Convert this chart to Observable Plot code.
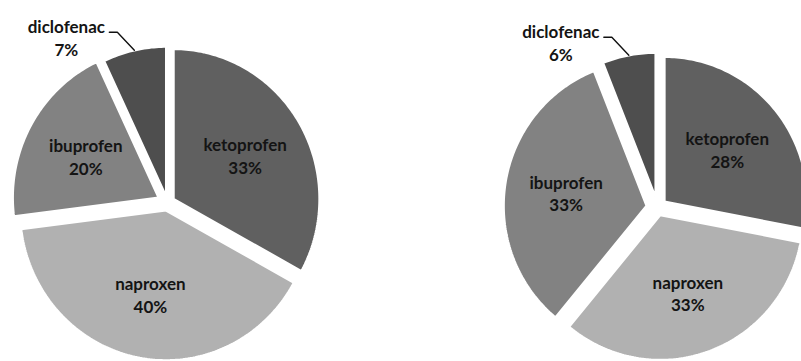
<!DOCTYPE html>
<html>
<head>
<meta charset="utf-8">
<script src="https://cdn.jsdelivr.net/npm/d3@7"></script>
<script src="https://cdn.jsdelivr.net/npm/@observablehq/plot@0.6"></script>
<style>
  html, body { margin: 0; padding: 0; background: #fff; overflow: hidden; }
  #chart svg { display: block; }
</style>
</head>
<body>
<div id="chart"></div>
<script>
// Drug names in clockwise order, starting at 12 o'clock
const drugs = ["ketoprofen", "naproxen", "ibuprofen", "diclofenac"];
// Share of each drug (%) in the left and right pie
const sharesLeft = [33, 40, 20, 7];
const sharesRight = [28, 33, 33, 6];

// Styling: one grey per drug
const sliceFill = {
  ketoprofen: "#606060",
  naproxen: "#b1b1b1",
  ibuprofen: "#828282",
  diclofenac: "#4e4e4e"
};

// Layout of the two exploded pies (pixel units of the x/y scales)
const W = 801, H = 361;
const pieLayouts = [
  {shares: sharesLeft, cx: 167, cy: 202, rx: 146, ry: 150, explode: [7, 8, 10, 6]},
  {shares: sharesRight, cx: 657, cy: 207, rx: 143, ry: 145, explode: [9, 8, 11, 10]}
];

const slicePts = [];
const labels = [];
const leaders = [];

pieLayouts.forEach((p, pi) => {
  const arcs = d3.pie().sort(null).value(d => d)(p.shares);
  arcs.forEach((a, i) => {
    const key = `${pi}-${drugs[i]}`;
    const fill = sliceFill[drugs[i]];
    const mid = (a.startAngle + a.endAngle) / 2;
    const e = p.explode[i];
    const ox = p.cx + e * Math.sin(mid);
    const oy = p.cy - e * Math.cos(mid);
    const pt = (ang, k = 1) => [ox + k * p.rx * Math.sin(ang), oy - k * p.ry * Math.cos(ang)];
    // wedge outline: apex, arc, back to apex
    slicePts.push({key, fill, x: ox, y: oy});
    const steps = Math.max(4, Math.ceil((a.endAngle - a.startAngle) / (Math.PI / 180)));
    for (let s = 0; s <= steps; s++) {
      const ang = a.startAngle + (a.endAngle - a.startAngle) * s / steps;
      const [x, y] = pt(ang);
      slicePts.push({key, fill, x, y});
    }
    slicePts.push({key, fill, x: ox, y: oy});

    const text = `${drugs[i]}\n${a.data}%`;
    if (a.data >= 10) {
      const [lx, ly] = pt(mid, 0.57);
      labels.push({x: lx, y: ly, text});
    } else {
      // small slice: label outside with a leader line
      const [ax, ay] = pt(mid, 1);
      const ex = ax - 17, ey = ay - 18;
      leaders.push({key, x: ax, y: ay}, {key, x: ex, y: ey}, {key, x: ex - 8, y: ey});
      labels.push({x: ex - 51, y: ey + 5, text});
    }
  });
});

const chart = Plot.plot({
  width: W,
  height: H,
  margin: 0,
  x: {domain: [0, W], range: [0, W], axis: null},
  y: {domain: [0, H], range: [0, H], axis: null},
  color: {type: "identity"},
  marks: [
    Plot.line(slicePts, {
      x: "x", y: "y", z: "key", fill: "fill",
      stroke: "white", strokeWidth: 2.4, strokeLinejoin: "miter", curve: "linear"
    }),
    Plot.line(leaders, {x: "x", y: "y", z: "key", stroke: "#111", strokeWidth: 1.4}),
    Plot.text(labels, {
      x: "x", y: "y", text: "text",
      fontSize: 17, fontWeight: "bold", fontFamily: "Lato, 'Open Sans', sans-serif",
      fill: "#141414", lineHeight: 1.33, textAnchor: "middle"
    })
  ]
});

document.getElementById("chart").appendChild(chart);
</script>
</body>
</html>
